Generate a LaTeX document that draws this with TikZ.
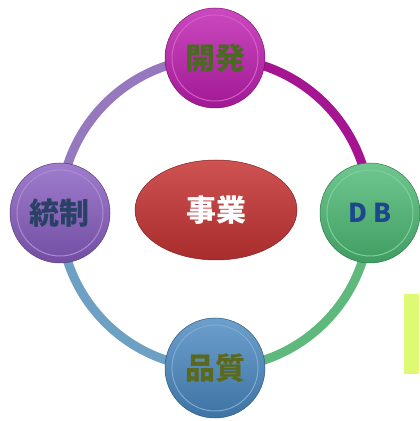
\documentclass[tikz,border=0pt]{standalone}
\usepackage{fontspec}
\newfontfamily\cjk{Noto Sans CJK JP}
\usepackage{tikz}
\usetikzlibrary{shapes.geometric}

\definecolor{devc}{RGB}{190,28,175}
\definecolor{dbc}{RGB}{75,185,115}
\definecolor{ctlc}{RGB}{135,92,192}
\definecolor{qualc}{RGB}{72,135,192}
\definecolor{bizc}{RGB}{198,52,52}
\definecolor{ringtl}{RGB}{150,120,190}
\definecolor{ringtr}{RGB}{165,20,145}
\definecolor{ringbr}{RGB}{95,185,125}
\definecolor{ringbl}{RGB}{110,160,195}
\definecolor{devtxt}{RGB}{75,105,35}
\definecolor{dbtxt}{RGB}{30,70,140}
\definecolor{ctltxt}{RGB}{40,65,100}
\definecolor{qualtxt}{RGB}{90,105,30}
\definecolor{limec}{RGB}{222,250,115}

\pgfdeclarelayer{background}
\pgfsetlayers{background,main}

\tikzset{
  knob/.style={circle, minimum size=100pt, inner sep=0pt, draw=#1!65!black, line width=0.5pt,
    top color=#1!80!white, bottom color=#1!85!black,
    path picture={\draw[#1!70!white, line width=1pt] (path picture bounding box.center) circle[radius=43pt];}},
  label/.style={font=\cjk\bfseries\fontsize{30}{30}\selectfont},
  ring/.style={line width=9pt, #1},
}

\begin{document}
\begin{tikzpicture}[x=1pt,y=1pt]
    \useasboundingbox (0,0) rectangle (420,421);

    % Hub
    \coordinate (hub) at (215,208);

    % Outer circles
    \node[knob=devc, label, text=devtxt] (dev) at (215,363) {開発};
    \node[knob=dbc, label, text=dbtxt, font=\cjk\bfseries\fontsize{26}{26}\selectfont] (db) at (370,208) {D B};
    \node[knob=ctlc, label, text=ctltxt] (ctl) at (60,208) {統制};
    \node[knob=qualc, label, text=qualtxt] (qual) at (215,53) {品質};

    % Center
    \node[ellipse, minimum width=162pt, minimum height=100pt, inner sep=0pt,
          draw=bizc!65!black, line width=0.5pt, top color=bizc!85!white, bottom color=bizc!85!black,
          label, text=white] (biz) at (216,211) {事業};

    % Ring between the circles
    \begin{pgfonlayer}{background}
        \draw[ring=ringtl] (dev.center) arc[start angle=90, end angle=180, radius=155pt];
        \draw[ring=ringbl] (ctl.center) arc[start angle=180, end angle=270, radius=155pt];
        \draw[ring=ringbr] (qual.center) arc[start angle=270, end angle=360, radius=155pt];
        \draw[ring=ringtr] (db.center) arc[start angle=0, end angle=90, radius=155pt];
    \end{pgfonlayer}

    % Side bar
    \fill[limec] (404,47) rectangle (419,127);
\end{tikzpicture}
\end{document}
